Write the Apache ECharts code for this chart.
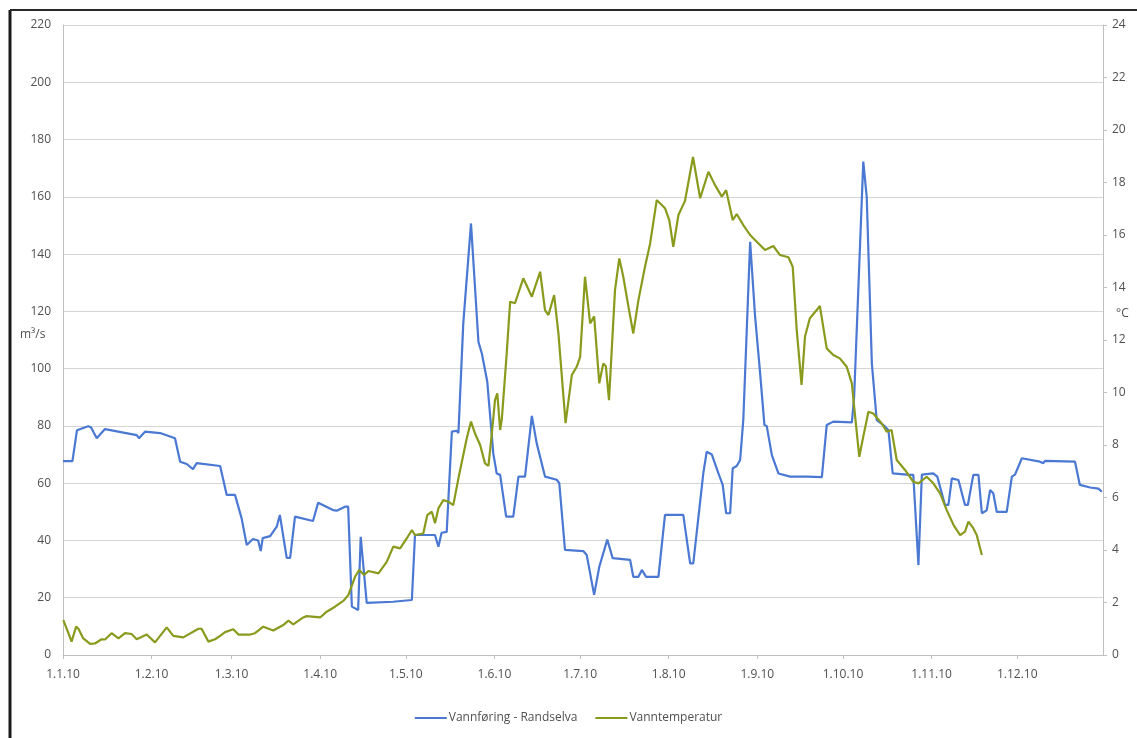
<!DOCTYPE html>
<html>
<head>
<meta charset="utf-8">
<script src="https://cdn.jsdelivr.net/npm/echarts@6/dist/echarts.min.js"></script>
<style>
html,body{margin:0;padding:0;background:#fff;}
#chart{width:1137px;height:738px;}
</style>
</head>
<body>
<div id="chart"></div>
<script>
// Day offsets from 1 Jan 2010 and values
const flowDays = [0,3.3,4.9,8.8,9.8,11.8,14.7,25.8,26.6,28.7,34.0,39.2,41.0,43.3,45.5,46.8,55.0,57.3,60.2,62.5,64.3,66.5,68.3,69.2,69.9,72.5,74.8,75.9,78.3,79.5,81.2,87.5,89.3,94.5,95.8,98.7,99.8,101.1,103.3,104.2,106.3,115.5,122.1,123.2,130.2,131.4,132.5,134.3,136.1,137.8,138.4,140.1,142.8,145.4,146.6,148.5,150.6,151.8,153.0,155.1,157.6,159.4,161.7,164.1,165.8,168.7,172.8,173.7,175.7,182.1,183.3,185.9,187.7,190.5,192.4,198.5,199.6,201.4,202.6,204.1,208.4,210.7,217.1,219.5,220.6,224.1,225.3,227.1,229.4,230.9,232.1,233.5,234.4,235.8,237.0,238.1,240.5,242.2,243.9,245.5,246.3,248.1,250.4,254.5,260.3,265.6,267.3,269.6,276.1,276.9,280.1,281.3,283.1,284.8,287.7,288.9,290.4,295.3,297.6,299.4,300.6,304.6,306.0,308.7,309.9,311.1,313.4,315.7,316.7,318.6,320.4,321.6,323.3,324.5,325.6,326.8,330.3,332.1,333.2,335.6,341.9,343.1,343.7,354.2,355.9,359.5,362.4,363.6];
const flowValues = [67.7,67.7,78.5,79.9,79.5,75.7,78.9,76.8,75.7,78,77.5,75.7,67.5,66.7,64.9,67,66,55.9,55.9,47.8,38.4,40.5,40,36.3,40.8,41.5,44.8,48.9,33.9,33.9,48.3,46.8,53.2,50.6,50.4,51.8,51.8,16.9,15.7,41.3,18.2,18.6,19.2,41.9,41.9,37.8,42.7,43,78,78.3,77.5,115.8,150.7,109.4,105.3,95.4,70.4,63.4,62.9,48.3,48.3,62.3,62.3,83.5,73.9,62.3,61.2,60,36.7,36.3,34.9,21,30.8,40.3,33.8,33.2,27.3,27.3,29.7,27.3,27.3,48.9,48.9,32,32,63.4,71,70,63.4,59.4,49.5,49.5,65.2,66,68.1,82,144.3,118.7,99.5,80.3,80,69.8,63.4,62.3,62.3,62.1,80.3,81.5,81.2,90.2,172.3,160,101.8,82,79.8,78.5,63.4,63,62.9,31.4,63,63.4,62.3,52.4,52.4,61.7,61.1,52.4,52.4,62.9,62.9,49.5,50.5,57.6,56.5,50,50,62.3,63,68.7,67.5,67,67.8,67.5,59.4,58.5,58.1,57];

const tempDays = [0.1,1.9,3.0,4.6,5.4,7.1,9.5,11.2,13.5,14.7,17.0,19.4,21.7,24.0,25.8,29.3,32.2,36.3,38.6,42.1,47.4,48.5,50.9,53.2,55.0,56.7,59.6,61.4,65.5,67.2,70.1,73.6,77.1,78.9,80.6,84.1,85.3,90.0,92.3,95.2,98.1,99.9,102.2,103.7,105.4,106.9,110.4,113.3,115.6,118.0,120.3,122.1,123.2,126.1,127.5,129.1,130.2,131.4,133.1,134.9,136.6,138.4,140.1,141.3,142.8,144.2,146.0,147.7,148.9,150.1,151.2,152.0,153.0,153.6,155.3,156.5,158.2,161.1,164.1,167.0,168.7,169.9,171.9,173.4,175.9,178.1,179.8,181.0,182.7,184.5,185.9,187.7,189.1,190.0,191.1,193.2,194.7,196.1,197.9,199.6,201.4,203.7,205.5,207.8,210.7,212.2,213.6,215.4,217.7,220.5,223.0,225.9,228.2,230.6,232.1,234.4,235.8,238.1,240.5,242.2,245.7,248.6,250.9,253.9,255.4,256.8,258.5,259.7,261.4,263.8,264.9,267.3,269.6,271.9,274.3,276.1,276.9,278.7,280.1,281.9,283.6,286.5,288.3,290.0,291.8,294.7,297.6,299.4,302.3,304.6,307.0,309.3,311.7,314.0,315.7,316.9,318.6,319.8,321.6];
const tempValues = [1.33,0.83,0.51,1.08,1.0,0.63,0.42,0.44,0.6,0.59,0.83,0.63,0.83,0.8,0.6,0.78,0.48,1.05,0.73,0.67,1.0,1.0,0.51,0.6,0.73,0.87,0.98,0.78,0.78,0.83,1.08,0.93,1.14,1.31,1.17,1.43,1.48,1.43,1.65,1.84,2.06,2.29,2.98,3.24,3.05,3.2,3.11,3.55,4.13,4.06,4.44,4.76,4.57,4.63,5.33,5.46,5.02,5.59,5.9,5.84,5.71,6.73,7.62,8.25,8.89,8.44,8.0,7.3,7.2,8.44,9.71,9.97,8.57,9.0,11.49,13.46,13.4,14.35,13.65,14.6,13.14,12.95,13.71,12.25,8.83,10.67,10.98,11.36,14.41,12.63,12.9,10.35,11.11,11.0,9.71,13.9,15.11,14.41,13.27,12.25,13.52,14.79,15.68,17.33,17.02,16.57,15.55,16.76,17.3,18.97,17.4,18.41,17.9,17.46,17.71,16.57,16.8,16.38,16.0,15.81,15.43,15.58,15.24,15.15,14.79,12.38,10.29,12.13,12.83,13.14,13.3,11.68,11.43,11.3,10.98,10.35,9.46,7.55,8.32,9.27,9.2,8.83,8.51,8.57,7.43,7.05,6.6,6.54,6.79,6.54,6.16,5.52,4.95,4.57,4.7,5.08,4.83,4.57,3.81];

const seriesNames = ['Vannføring - Randselva', 'Vanntemperatur'];
const leftAxisName = 'm³/s';
const rightAxisName = '°C';

const DAY0 = Date.UTC(2010, 0, 1);
const DAYMS = 86400000;
const toPairs = (days, vals) => days.map((d, i) => [DAY0 + d * DAYMS, vals[i]]);

const FONT = 'Open Sans';
const TXT = '#505050';

const chart = echarts.init(document.getElementById('chart'), null, {renderer: 'canvas'});
chart.setOption({
  useUTC: true,
  animation: false,
  backgroundColor: '#fff',
  textStyle: {fontFamily: FONT},
  grid: {left: 63, right: 34, top: 25, bottom: 83, containLabel: false},
  legend: {
    bottom: 9,
    left: 'center',
    itemGap: 18,
    itemWidth: 32,
    itemHeight: 2,
    icon: 'rect',
    textStyle: {fontFamily: FONT, fontSize: 12, color: TXT, padding: [0, 0, 0, -3]},
    data: seriesNames
  },
  xAxis: {
    type: 'time',
    min: DAY0,
    max: DAY0 + 364 * DAYMS,
    splitNumber: 12,
    minInterval: 28 * DAYMS,
    maxInterval: 31 * DAYMS,
    axisLine: {lineStyle: {color: '#bfbfbf'}},
    axisTick: {show: true, length: 4, lineStyle: {color: '#bfbfbf'}},
    splitLine: {show: false},
    axisLabel: {
      color: TXT, fontSize: 12, fontFamily: FONT, margin: 14,
      showMaxLabel: false,
      formatter: function (v) {
        const d = new Date(v);
        return d.getUTCDate() + '.' + (d.getUTCMonth() + 1) + '.10';
      }
    }
  },
  yAxis: [
    {
      type: 'value', min: 0, max: 220, interval: 20,
      axisLine: {show: true, lineStyle: {color: '#bfbfbf'}},
      axisTick: {show: false},
      axisLabel: {color: TXT, fontSize: 12, fontFamily: FONT, margin: 12},
      splitLine: {show: true, lineStyle: {color: '#d4d4d4', width: 1}}
    },
    {
      type: 'value', min: 0, max: 24, interval: 2, position: 'right',
      axisLine: {show: true, lineStyle: {color: '#bfbfbf'}},
      axisTick: {show: true, length: 4, lineStyle: {color: '#bfbfbf'}},
      axisLabel: {color: TXT, fontSize: 12, fontFamily: FONT, margin: 9},
      splitLine: {show: false}
    }
  ],
  graphic: [
    {type: 'text', left: 20, top: 329, style: {text: leftAxisName, fill: TXT, font: '12px "Open Sans"'}},
    {type: 'text', left: 1116, top: 308, style: {text: rightAxisName, fill: TXT, font: '12px "Open Sans"'}},
    {type: 'line', shape: {x1: 10, y1: 10, x2: 10, y2: 738}, style: {stroke: '#1a1a1a', lineWidth: 3}},
    {type: 'line', shape: {x1: 10, y1: 10, x2: 1137, y2: 10}, style: {stroke: '#2a2a2a', lineWidth: 2}}
  ],
  series: [
    {
      name: seriesNames[0], type: 'line', yAxisIndex: 0,
      showSymbol: false, symbol: 'none',
      lineStyle: {color: '#4a78d2', width: 2.2},
      itemStyle: {color: '#4a78d2'},
      data: toPairs(flowDays, flowValues)
    },
    {
      name: seriesNames[1], type: 'line', yAxisIndex: 1,
      showSymbol: false, symbol: 'none',
      lineStyle: {color: '#8a9a1c', width: 2.2},
      itemStyle: {color: '#8a9a1c'},
      data: toPairs(tempDays, tempValues)
    }
  ]
});
</script>
</body>
</html>
